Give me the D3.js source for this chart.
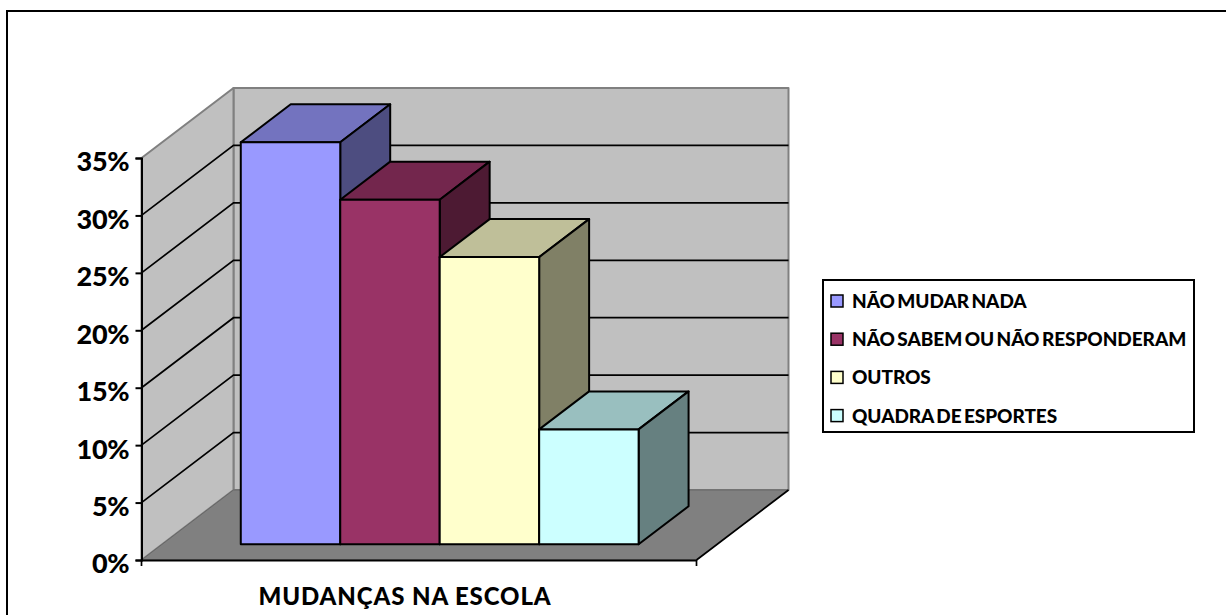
<!DOCTYPE html>
<html lang="pt">
<head>
    <meta charset="utf-8">
    <title>Mudanças na escola</title>
    <script src="https://cdn.jsdelivr.net/npm/d3@7"></script>
    <style>
        html, body { margin: 0; padding: 0; background: #fff; overflow: hidden; }
        text { font-family: Lato, "Open Sans", sans-serif; font-weight: 900; fill: #000; }
    </style>
</head>
<body>
    <div id="chart"></div>

    <script type="text/javascript">
        var categories = ["NÃO MUDAR NADA", "NÃO SABEM OU NÃO RESPONDERAM", "OUTROS", "QUADRA DE ESPORTES"];
        var values = [0.35, 0.30, 0.25, 0.10];
        var colors = ["#9999FF", "#993366", "#FFFFCC", "#CCFFFF"];
        var ticks = [0, 0.05, 0.10, 0.15, 0.20, 0.25, 0.30, 0.35];
        var axisTitle = "MUDANÇAS NA ESCOLA";

        var w = 1226, h = 615;

        var svg = d3.select("#chart").append("svg")
            .attr("width", w)
            .attr("height", h);

        // outer frame, right and bottom sides are cut off by the window
        svg.append("rect")
            .attr("x", 7).attr("y", 11)
            .attr("width", 1260).attr("height", 660)
            .attr("fill", "#fff")
            .attr("stroke", "#000")
            .attr("stroke-width", 2);

        var yScale = d3.scaleLinear().domain([0, 0.35]).range([560, 158]);
        var xScale = d3.scaleBand().domain(categories).range([141.5, 696.5])
            .paddingInner(0).paddingOuter(0.79);

        // depth goes from 0 (front of floor) to 1 (back wall)
        var dx = d3.scaleLinear().domain([0, 1]).range([0, 92]);
        var dy = d3.scaleLinear().domain([0, 1]).range([0, -70]);

        var barFront = 0.225, barBack = 0.768;
        var x0 = xScale.range()[0], x1 = xScale.range()[1];

        // project a point (x on the front axis, value, depth) to the screen
        function pt(x, v, depth) {
            return [x + dx(depth), yScale(v) + dy(depth)];
        }
        function poly(g, pts, fill, stroke, sw) {
            return g.append("polygon")
                .attr("points", pts.map(function(p) { return p.join(","); }).join(" "))
                .attr("fill", fill)
                .attr("stroke", stroke)
                .attr("stroke-width", sw)
                .attr("stroke-linejoin", "round");
        }

        var maxTick = ticks[ticks.length - 1];
        var walls = svg.append("g");

        // back wall, side wall, floor
        poly(walls, [pt(x0, 0, 1), pt(x1, 0, 1), pt(x1, maxTick, 1), pt(x0, maxTick, 1)], "#C0C0C0", "#808080", 2);
        poly(walls, [pt(x0, 0, 0), pt(x0, 0, 1), pt(x0, maxTick, 1), pt(x0, maxTick, 0)], "#C0C0C0", "#808080", 2);
        poly(walls, [pt(x0, 0, 0), pt(x1, 0, 0), pt(x1, 0, 1), pt(x0, 0, 1)], "#808080", "#666", 1);

        // gridlines on both walls
        walls.selectAll("polyline.grid")
            .data(ticks.slice(1, -1))
            .enter()
            .append("polyline")
            .attr("class", "grid")
            .attr("fill", "none")
            .attr("stroke", "#000")
            .attr("stroke-width", 1.7)
            .attr("points", function(d) {
                return [pt(x0, d, 0), pt(x0, d, 1), pt(x1, d, 1)].map(function(p) { return p.join(","); }).join(" ");
            });

        // floor right edge
        walls.append("line")
            .attr("x1", pt(x1, 0, 0)[0]).attr("y1", pt(x1, 0, 0)[1])
            .attr("x2", pt(x1, 0, 1)[0]).attr("y2", pt(x1, 0, 1)[1])
            .attr("stroke", "#000").attr("stroke-width", 1.7);

        // bars, left to right
        var bars = svg.append("g");
        categories.forEach(function(c, i) {
            var a = xScale(c), b = a + xScale.bandwidth(), v = values[i];
            var g = bars.append("g");
            var col = d3.color(colors[i]);
            var topCol = d3.rgb(col.r * 0.75, col.g * 0.75, col.b * 0.75);
            var sideCol = d3.rgb(col.r * 0.5, col.g * 0.5, col.b * 0.5);
            poly(g, [pt(a, v, barFront), pt(b, v, barFront), pt(b, v, barBack), pt(a, v, barBack)], topCol, "#000", 2);
            poly(g, [pt(b, 0, barFront), pt(b, 0, barBack), pt(b, v, barBack), pt(b, v, barFront)], sideCol, "#000", 2);
            poly(g, [pt(a, 0, barFront), pt(b, 0, barFront), pt(b, v, barFront), pt(a, v, barFront)], col, "#000", 2);
        });

        // axes
        var yAxis = svg.append("g")
            .attr("transform", "translate(" + x0 + ",0)")
            .call(d3.axisLeft(yScale).tickValues(ticks).tickFormat(d3.format(".0%")).tickSize(6).tickPadding(6));
        yAxis.selectAll("line, path").attr("stroke", "#000").attr("stroke-width", 2);
        yAxis.selectAll("text")
            .style("font-size", "27px")
            .attr("letter-spacing", -0.2)
            .attr("dy", "0.48em");

        var xAxis = d3.scaleBand().domain([axisTitle]).range([x0, x1]);
        var xg = svg.append("g")
            .attr("transform", "translate(0,560)")
            .call(d3.axisBottom(xAxis).tickSize(0).tickPadding(28));
        xg.select("path").attr("stroke", "#000").attr("stroke-width", 2);
        xg.selectAll("text")
            .style("font-size", "24px")
            .attr("letter-spacing", 0.9)
            .attr("dx", -14);
        // end ticks of the category axis
        xg.selectAll("line.end")
            .data([x0, x1])
            .enter().append("line")
            .attr("class", "end")
            .attr("x1", function(d) { return d; })
            .attr("x2", function(d) { return d; })
            .attr("y1", 0).attr("y2", 6)
            .attr("stroke", "#000").attr("stroke-width", 1.7);

        // legend
        var legend = svg.append("g").attr("transform", "translate(823,280)");
        legend.append("rect")
            .attr("width", 371).attr("height", 152)
            .attr("fill", "#fff").attr("stroke", "#000").attr("stroke-width", 2);
        var item = legend.selectAll("g.item")
            .data(categories)
            .enter()
            .append("g")
            .attr("class", "item")
            .attr("transform", function(d, i) { return "translate(0," + (21 + i * 38.2) + ")"; });
        item.append("rect")
            .attr("x", 8).attr("y", -6)
            .attr("width", 12).attr("height", 12)
            .attr("fill", function(d, i) { return colors[i]; })
            .attr("stroke", "#000").attr("stroke-width", 1.5);
        item.append("text")
            .attr("x", 29)
            .attr("y", 7)
            .attr("font-size", 19)
            .attr("letter-spacing", -0.05)
            .attr("word-spacing", -2)
            .text(function(d) { return d; });
    </script>
</body>
</html>
